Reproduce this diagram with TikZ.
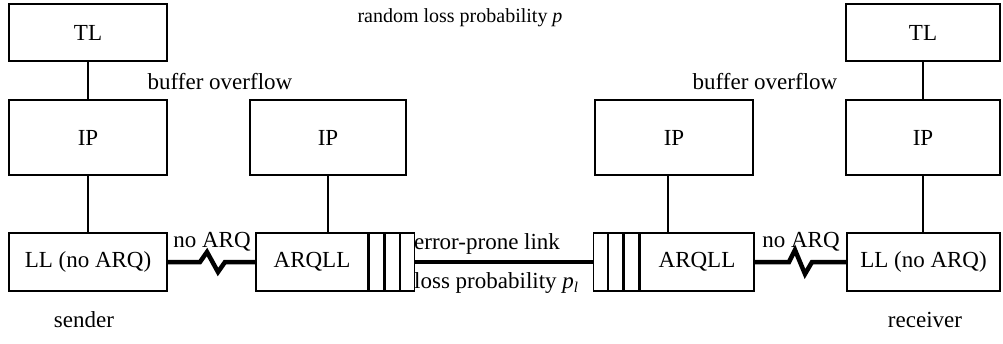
\documentclass[tikz,border=0pt]{standalone}
\usepackage{fontspec}
\setmainfont{Liberation Serif}
\begin{document}
\begin{tikzpicture}[x=1pt,y=-1pt,
  lay/.style={draw,line width=1.3pt,rectangle,inner sep=0pt,font=\fontsize{23}{26}\selectfont},
  slot/.style={draw,line width=1.3pt,rectangle,inner sep=0pt,minimum width=14.3pt,minimum height=58pt},
  lbl/.style={inner sep=0pt,font=\fontsize{23}{26}\selectfont},
  conn/.style={line width=1.3pt},
  thick link/.style={line width=4.5pt}]
\useasboundingbox (0,0) rectangle (1003,343);
% left column
\node[lay,minimum width=158pt,minimum height=57pt] (tlL) at (88,32.5) {TL};
\node[lay,minimum width=158pt,minimum height=75pt] (ipL) at (88,137.5) {IP};
\node[lay,minimum width=158pt,minimum height=58pt] (llL) at (88,262) {LL (no ARQ)};
% sender-side router
\node[lay,minimum width=156pt,minimum height=75pt] (ipA) at (328,137.5) {IP};
\node[lay,minimum width=112pt,minimum height=58pt] (arqL) at (312,262) {ARQLL};
\node[slot,anchor=west] (sL1) at (arqL.east) {};
\node[slot,anchor=west] (sL2) at (sL1.east) {};
\node[slot,anchor=west] (sL3) at (sL2.east) {};
% receiver-side router
\node[lay,minimum width=158pt,minimum height=75pt] (ipB) at (674,137.5) {IP};
\node[lay,minimum width=114pt,minimum height=58pt] (arqR) at (697,262) {ARQLL};
\node[slot,anchor=east] (sR3) at (arqR.west) {};
\node[slot,anchor=east] (sR2) at (sR3.west) {};
\node[slot,anchor=east] (sR1) at (sR2.west) {};
% right column
\node[lay,minimum width=154pt,minimum height=57pt] (tlR) at (923,32.5) {TL};
\node[lay,minimum width=154pt,minimum height=75pt] (ipR) at (923,137.5) {IP};
\node[lay,minimum width=153pt,minimum height=58pt] (llR) at (923.5,262) {LL (no ARQ)};
% vertical connectors
\draw[conn] (tlL.south) -- (tlL.south |- ipL.north);
\draw[conn] (ipL.south) -- (ipL.south |- llL.north);
\draw[conn] (ipA.south) -- (ipA.south |- arqL.north);
\draw[conn] ([xshift=-6pt]ipB.south) -- ([xshift=-6pt]ipB.south |- arqR.north);
\draw[conn] (tlR.south) -- (tlR.south |- ipR.north);
\draw[conn] (ipR.south) -- (ipR.south |- llR.north);
% links
\coordinate (zL1) at (200,262);
\coordinate (zL2) at (207,252);
\coordinate (zL3) at (218,272);
\coordinate (zL4) at (225,262);
\draw[thick link,line join=miter] (llL.east) -- (zL1) -- (zL2) -- (zL3) -- (zL4) -- (arqL.west);
\draw[thick link] (sL3.east) -- (sR1.west);
\coordinate (zR1) at (789,262);
\coordinate (zR2) at (795,250);
\coordinate (zR3) at (805,274);
\coordinate (zR4) at (812,262);
\draw[thick link,line join=miter] (arqR.east) -- (zR1) -- (zR2) -- (zR3) -- (zR4) -- (llR.west);
% labels
\node[lbl,font=\fontsize{20}{23}\selectfont] (rl) at (460,18) {random loss probability \textit{p}};
\node[lbl] (boL) at (220,82) {buffer overflow};
\node[lbl] (boR) at (765,82) {buffer overflow};
\node[lbl] (naL) at (212,242) {no ARQ};
\node[lbl] (naR) at (801,242) {no ARQ};
\node[lbl,anchor=west] (epl) at (414,244) {error-prone link};
\node[lbl,anchor=west] (lpl) at (414,283) {loss probability \textit{p}\raisebox{-0.35ex}{\fontsize{15}{17}\selectfont\textit{l}}};
\node[lbl] (snd) at (84,320) {sender};
\node[lbl] (rcv) at (925,320) {receiver};
\end{tikzpicture}
\end{document}
